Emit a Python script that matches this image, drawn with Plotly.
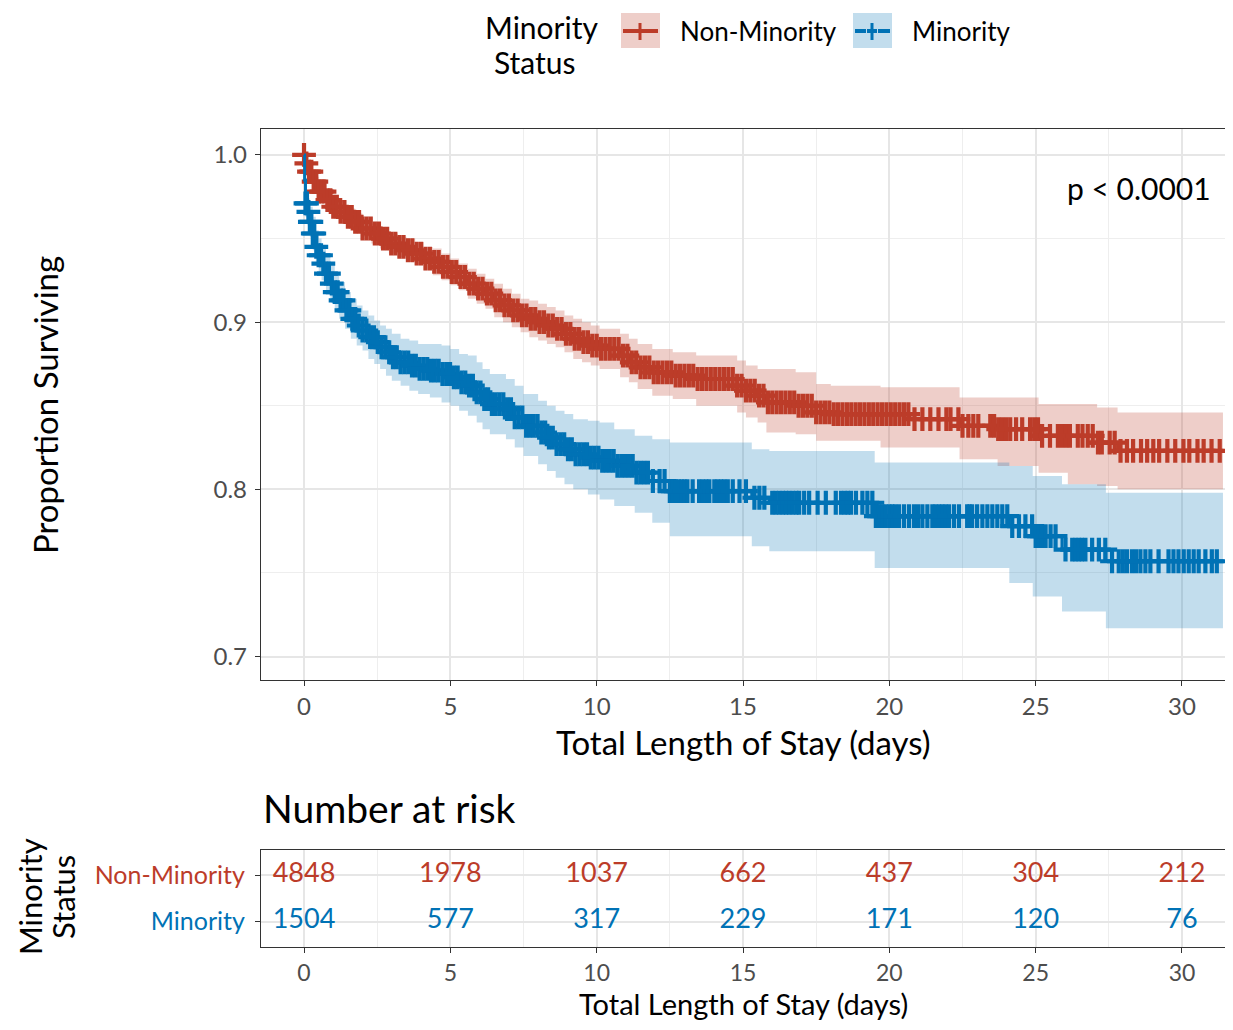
import numpy as np
import plotly.graph_objects as go

# ---------------- data ----------------
red_t = [0, 0.05, 0.15, 0.3, 0.5, 0.75, 1.0, 1.25, 1.5, 1.75, 2.0, 2.3, 2.6, 2.9, 3.2, 3.5, 3.8, 4.1,
         4.4, 4.7, 5.0, 5.3, 5.6, 5.9, 6.2, 6.5, 6.8, 7.1, 7.4, 7.7, 8.0, 8.3, 8.6, 8.9, 9.2, 9.5,
         9.8, 10.1, 10.8, 11.1, 11.4, 11.9, 12.6, 13.4, 14.8, 15.1, 15.5, 15.8, 16.8, 17.5, 18.0,
         19.7, 20.7, 22.4, 23.7, 25.1, 26.1, 27.1, 27.8]
red_s = [1.0, 0.995, 0.990, 0.984, 0.978, 0.973, 0.969, 0.966, 0.963, 0.960, 0.956, 0.953, 0.950,
         0.947, 0.945, 0.943, 0.941, 0.938, 0.936, 0.933, 0.930, 0.927, 0.923, 0.920, 0.917, 0.913,
         0.910, 0.907, 0.904, 0.902, 0.900, 0.898, 0.896, 0.893, 0.890, 0.888, 0.886, 0.884, 0.880,
         0.876, 0.873, 0.870, 0.868, 0.866, 0.862, 0.859, 0.856, 0.852, 0.850, 0.846, 0.845, 0.845,
         0.842, 0.838, 0.836, 0.832, 0.832, 0.828, 0.823]
red_lo = [1.0, 0.993, 0.987, 0.981, 0.975, 0.969, 0.965, 0.962, 0.958, 0.955, 0.951, 0.947, 0.944,
          0.941, 0.939, 0.936, 0.934, 0.931, 0.928, 0.925, 0.922, 0.919, 0.914, 0.911, 0.908, 0.903,
          0.900, 0.897, 0.894, 0.891, 0.889, 0.887, 0.885, 0.882, 0.878, 0.876, 0.874, 0.872, 0.867,
          0.864, 0.860, 0.856, 0.854, 0.850, 0.846, 0.843, 0.840, 0.834, 0.833, 0.829, 0.829, 0.825,
          0.825, 0.818, 0.814, 0.810, 0.803, 0.802, 0.800]
red_hi = [1.0, 0.997, 0.993, 0.987, 0.981, 0.977, 0.973, 0.970, 0.968, 0.965, 0.961, 0.959, 0.956,
          0.953, 0.951, 0.950, 0.948, 0.945, 0.944, 0.941, 0.938, 0.935, 0.932, 0.929, 0.926, 0.923,
          0.920, 0.917, 0.914, 0.913, 0.911, 0.909, 0.907, 0.904, 0.902, 0.900, 0.898, 0.896, 0.893,
          0.890, 0.887, 0.884, 0.882, 0.880, 0.877, 0.874, 0.872, 0.872, 0.870, 0.863, 0.862, 0.861,
          0.861, 0.855, 0.855, 0.851, 0.851, 0.849, 0.846]

blue_t = [0, 0.02, 0.05, 0.12, 0.2, 0.3, 0.4, 0.5, 0.6, 0.75, 0.9, 1.05, 1.2, 1.4, 1.6, 1.8, 2.0,
          2.2, 2.4, 2.6, 2.8, 3.0, 3.3, 3.6, 3.9, 4.3, 4.7, 5.0, 5.3, 5.6, 5.9, 6.1, 6.35, 6.9, 7.2,
          7.5, 8.0, 8.3, 8.6, 8.9, 9.2, 9.7, 10.1, 10.6, 11.3, 11.9, 12.5, 15.3, 15.9, 19.5, 24.1,
          24.9, 25.9, 27.4]
blue_s = [1.0, 0.985, 0.971, 0.966, 0.960, 0.953, 0.945, 0.940, 0.935, 0.929, 0.923, 0.918, 0.913,
          0.907, 0.902, 0.898, 0.895, 0.891, 0.888, 0.885, 0.882, 0.879, 0.876, 0.874, 0.872, 0.871,
          0.869, 0.867, 0.864, 0.862, 0.858, 0.854, 0.851, 0.848, 0.843, 0.838, 0.834, 0.831, 0.827,
          0.824, 0.821, 0.819, 0.817, 0.814, 0.810, 0.805, 0.799, 0.795, 0.792, 0.784, 0.778, 0.772,
          0.764, 0.757]
blue_lo = [1.0, 0.979, 0.963, 0.958, 0.951, 0.943, 0.935, 0.930, 0.925, 0.919, 0.912, 0.907, 0.902,
           0.896, 0.890, 0.886, 0.883, 0.878, 0.875, 0.872, 0.868, 0.865, 0.862, 0.859, 0.857, 0.855,
           0.852, 0.850, 0.847, 0.844, 0.840, 0.836, 0.833, 0.830, 0.825, 0.820, 0.815, 0.811, 0.807,
           0.803, 0.800, 0.797, 0.794, 0.790, 0.786, 0.780, 0.772, 0.766, 0.763, 0.753, 0.744, 0.736,
           0.727, 0.717]
blue_hi = [1.0, 0.991, 0.979, 0.974, 0.969, 0.963, 0.955, 0.950, 0.945, 0.939, 0.934, 0.929, 0.924,
           0.918, 0.914, 0.910, 0.907, 0.904, 0.901, 0.898, 0.896, 0.893, 0.890, 0.889, 0.887, 0.887,
           0.886, 0.884, 0.881, 0.880, 0.876, 0.872, 0.869, 0.866, 0.862, 0.857, 0.853, 0.850, 0.847,
           0.845, 0.842, 0.841, 0.840, 0.836, 0.832, 0.830, 0.828, 0.824, 0.823, 0.816, 0.814, 0.808,
           0.803, 0.798]

t_end = 31.4

red_cens = [0.0, 0.08, 0.17, 0.25, 0.33, 0.42, 0.5, 0.6, 0.7, 0.8, 0.9, 1.0, 1.12, 1.25, 1.38, 1.5,
            1.63, 1.75, 1.88, 2.0, 2.14, 2.28, 2.42, 2.56, 2.7, 2.84, 2.98, 3.12, 3.26, 3.4, 3.55,
            3.7, 3.85, 4.0, 4.15, 4.3, 4.45, 4.6, 4.75, 4.9, 5.05, 5.2, 5.35, 5.5, 5.65, 5.8, 5.95,
            6.1, 6.25, 6.4, 6.55, 6.7, 6.85, 7.0, 7.15, 7.3, 7.45, 7.6, 7.75, 7.9, 8.05, 8.2, 8.35,
            8.5, 8.65, 8.8, 8.95, 9.1, 9.25, 9.4, 9.55, 9.7, 9.85, 10.0, 10.15, 10.3, 10.45, 10.6,
            10.75, 10.9, 11.05, 11.2, 11.35, 11.5, 11.65, 11.8, 11.95, 12.1, 12.25, 12.4, 12.55,
            12.7, 12.85, 13.0, 13.15, 13.3, 13.45, 13.6, 13.75, 13.9, 14.05, 14.2, 14.35, 14.5,
            14.65, 14.8, 14.95, 15.1, 15.25, 15.4, 15.55, 15.7, 15.85, 16.0, 16.15, 16.3, 16.45,
            16.6, 16.75, 16.9, 17.05, 17.2, 17.35, 17.5, 17.65, 17.8, 17.95, 18.1, 18.25, 18.4,
            18.55, 18.7, 18.85, 19.0, 19.15, 19.3, 19.45, 19.6, 19.75, 19.9, 20.05, 20.2, 20.35,
            20.5, 20.65, 20.86, 21.13, 21.4, 21.68, 21.95, 22.09, 22.36, 22.5, 22.7, 22.87, 23.04,
            23.45, 23.58, 23.72, 23.85, 23.99, 24.13, 24.33, 24.54, 24.81, 24.95, 25.08, 25.22,
            25.49, 25.76, 25.9, 26.04, 26.17, 26.44, 26.6, 26.78, 26.95, 27.13, 27.26, 27.53,
            27.7, 27.9, 28.12, 28.33, 28.6, 28.81, 29.02, 29.22, 29.5, 29.77, 30.05, 30.25, 30.53,
            30.74, 31.01, 31.29]

blue_cens = [0.05, 0.1, 0.15, 0.2, 0.25, 0.3, 0.35, 0.42, 0.5, 0.58, 0.66, 0.75, 0.85, 0.95, 1.05,
             1.15, 1.25, 1.35, 1.45, 1.55, 1.65, 1.75, 1.87, 2.0, 2.13, 2.26, 2.39, 2.52, 2.65,
             2.78, 2.91, 3.04, 3.17, 3.3, 3.43, 3.56, 3.69, 3.82, 3.95, 4.08, 4.21, 4.34, 4.47,
             4.6, 4.73, 4.86, 4.99, 5.12, 5.25, 5.38, 5.51, 5.64, 5.77, 5.9, 6.03, 6.16, 6.29,
             6.42, 6.55, 6.68, 6.81, 6.94, 7.07, 7.2, 7.33, 7.46, 7.59, 7.72, 7.85, 7.98, 8.11,
             8.24, 8.37, 8.5, 8.63, 8.76, 8.89, 9.02, 9.15, 9.28, 9.41, 9.54, 9.67, 9.8, 9.93,
             10.06, 10.19, 10.32, 10.45, 10.58, 10.71, 10.84, 10.97, 11.1, 11.23, 11.36, 11.49,
             11.62, 11.75, 11.92, 12.15, 12.32, 12.5, 12.6, 12.7, 12.8, 12.9, 13.0, 13.1, 13.28,
             13.5, 13.62, 13.74, 13.85, 14.02, 14.13, 14.25, 14.36, 14.48, 14.65, 14.88, 15.1,
             15.39, 15.56, 15.73, 16.0, 16.12, 16.24, 16.36, 16.47, 16.58, 16.7, 16.82, 16.92,
             17.09, 17.26, 17.55, 17.83, 18.17, 18.35, 18.47, 18.58, 18.69, 18.86, 19.08, 19.25,
             19.42, 19.54, 19.65, 19.76, 19.88, 20.0, 20.1, 20.2, 20.33, 20.5, 20.67, 20.84,
             20.98, 21.13, 21.3, 21.47, 21.58, 21.7, 21.81, 21.92, 22.04, 22.21, 22.38, 22.66,
             22.74, 22.83, 23.0, 23.18, 23.35, 23.52, 23.69, 23.86, 24.03, 24.2, 24.43, 24.65,
             24.88, 25.0, 25.11, 25.22, 25.34, 25.51, 25.68, 26.02, 26.25, 26.36, 26.47, 26.58,
             26.7, 26.93, 27.16, 27.38, 27.61, 27.84, 27.98, 28.12, 28.29, 28.43, 28.58, 28.75,
             28.92, 29.2, 29.54, 29.71, 29.88, 30.06, 30.23, 30.4, 30.57, 30.8, 31.02, 31.19]

groups = ["Non-Minority", "Minority"]
risk_times = [0, 5, 10, 15, 20, 25, 30]
risk_nonminority = [4848, 1978, 1037, 662, 437, 304, 212]
risk_minority = [1504, 577, 317, 229, 171, 120, 76]
x_ticks = [0, 5, 10, 15, 20, 25, 30]
y_ticks = [0.7, 0.8, 0.9, 1.0]
p_label = "p < 0.0001"

# ---------------- styling ----------------
OFF = 8                      # page body margin
W, H = 1233 - 2 * OFF, 1030 - 2 * OFF
RED, BLUE = "#BC3C29", "#0072B5"
RED_FILL, BLUE_FILL = "rgba(188,60,41,0.25)", "rgba(0,114,181,0.24)"
FONT = "Lato"
GRID, MINOR = "#E6E6E6", "#EEEEEE"
AX = "#333333"


def px(x):
    return min(1.0, max(0.0, (x - OFF) / W))


def py(y):
    return min(1.0, max(0.0, 1 - (y - OFF) / H))


def step_ext(t, v):
    return list(t) + [t_end], list(v) + [v[-1]]


def at(tlist, slist, c):
    idx = np.searchsorted(np.asarray(tlist), np.asarray(c), side="right") - 1
    return np.asarray(slist)[idx]


fig = go.Figure()

for t, s, lo, hi, col, fill in [(red_t, red_s, red_lo, red_hi, RED, RED_FILL),
                                (blue_t, blue_s, blue_lo, blue_hi, BLUE, BLUE_FILL)]:
    xl, yl = step_ext(t, lo)
    xh, yh = step_ext(t, hi)
    fig.add_trace(go.Scatter(x=xl, y=yl, mode="lines", line=dict(width=0, shape="hv"),
                             showlegend=False, hoverinfo="skip"))
    fig.add_trace(go.Scatter(x=xh, y=yh, mode="lines", line=dict(width=0, shape="hv"),
                             fill="tonexty", fillcolor=fill, showlegend=False, hoverinfo="skip"))

for t, s, cens, col in [(red_t, red_s, red_cens, RED), (blue_t, blue_s, blue_cens, BLUE)]:
    xs, ys = step_ext(t, s)
    fig.add_trace(go.Scatter(x=xs, y=ys, mode="lines", line=dict(width=3, shape="hv", color=col),
                             showlegend=False))
    fig.add_trace(go.Scatter(x=cens, y=at(t, s, cens), mode="markers",
                             marker=dict(symbol="cross-thin", size=17,
                                         line=dict(width=4.2, color=col)),
                             showlegend=False))

# risk table
for vals, g, col in [(risk_nonminority, 2, RED), (risk_minority, 1, BLUE)]:
    fig.add_trace(go.Scatter(x=risk_times, y=[g] * len(risk_times), mode="text",
                             text=[str(v) for v in vals],
                             textfont=dict(family=FONT, size=27, color=col),
                             xaxis="x2", yaxis="y2", showlegend=False))

axis_common = dict(showline=True, mirror=True, linecolor=AX, linewidth=1.3, ticks="outside",
                   ticklen=5, tickwidth=1.3, tickcolor=AX, zeroline=False,
                   showgrid=True, gridcolor=GRID, gridwidth=1.6,
                   tickfont=dict(family=FONT, size=24, color="#4D4D4D"))

xr = [-1.47, 31.47]
fig.update_layout(
    width=W, height=H, autosize=False,
    margin=dict(l=0, r=0, t=0, b=0),
    paper_bgcolor="white", plot_bgcolor="white",
    font=dict(family=FONT, color="black"),
    xaxis=dict(domain=[px(261), px(1226)], range=xr, anchor="y", tickvals=x_ticks,
               minor=dict(dtick=2.5, tick0=0, showgrid=True, gridcolor=MINOR, gridwidth=1.1),
               **axis_common),
    yaxis=dict(domain=[py(680), py(129)], range=[0.686, 1.0155], anchor="x", tickvals=y_ticks,
               tickformat=".1f", ticklabelstandoff=3,
               minor=dict(dtick=0.05, tick0=0.7, showgrid=True, gridcolor=MINOR, gridwidth=1.1),
               **axis_common),
    xaxis2=dict(domain=[px(261), px(1226)], range=xr, anchor="y2", tickvals=x_ticks,
                minor=dict(dtick=2.5, tick0=0, showgrid=True, gridcolor=MINOR, gridwidth=1.1),
                **axis_common),
    yaxis2=dict(domain=[py(947), py(850)], range=[0.45, 2.55], anchor="x2", tickvals=[2, 1],
                ticklabelstandoff=5,
                ticktext=[f"<span style='color:{RED}'>{groups[0]}</span>",
                          f"<span style='color:{BLUE}'>{groups[1]}</span>"],
                **axis_common),
)
fig.update_layout(yaxis2_tickfont=dict(family=FONT, size=25),
                  xaxis2_tickfont=dict(family=FONT, size=23, color="#4D4D4D"))

ann = []
def text(x, y, s, size, xanchor="center", yanchor="middle", angle=0, color="black", align="center"):
    ann.append(dict(x=px(x), y=py(y), xref="paper", yref="paper", text=s, showarrow=False,
                    xanchor=xanchor, yanchor=yanchor, textangle=angle, align=align, borderpad=0,
                    font=dict(family=FONT, size=size, color=color)))

text(743, 742, "Total Length of Stay (days)", 33)
text(743, 1025, "Total Length of Stay (days)", 29, yanchor="bottom")
text(45, 405, "Proportion Surviving", 33, angle=-90)
text(262, 808, "Number at risk", 39, xanchor="left")
text(30, 897, "Minority", 31, angle=-90)
text(63, 897, "Status", 31, angle=-90)
text(1212, 188, p_label, 30, xanchor="right")
text(541, 27, "Minority", 30)
text(535, 62, "Status", 30)
text(679, 31, groups[0], 26, xanchor="left")
text(911, 31, groups[1], 26, xanchor="left")
fig.update_layout(annotations=ann)

shapes = []
def rect(x0, y0, x1, y1, fill):
    shapes.append(dict(type="rect", xref="paper", yref="paper", x0=px(x0), x1=px(x1),
                       y0=py(y1), y1=py(y0), fillcolor=fill, line=dict(width=0)))

def seg(x0, y0, x1, y1, col, w):
    shapes.append(dict(type="line", xref="paper", yref="paper", x0=px(x0), x1=px(x1),
                       y0=py(y0), y1=py(y1), line=dict(color=col, width=w)))

rect(621, 13, 660, 48, RED_FILL)
seg(623, 31, 658, 31, RED, 4)
seg(640, 23, 640, 40, RED, 3)
rect(853, 13, 892, 48, BLUE_FILL)
seg(855, 31, 866, 31, BLUE, 4)
seg(867, 31, 877, 31, BLUE, 4)
seg(878, 31, 890, 31, BLUE, 4)
seg(872, 23, 872, 40, BLUE, 3)
fig.update_layout(shapes=shapes)

fig.write_html("out.html")
